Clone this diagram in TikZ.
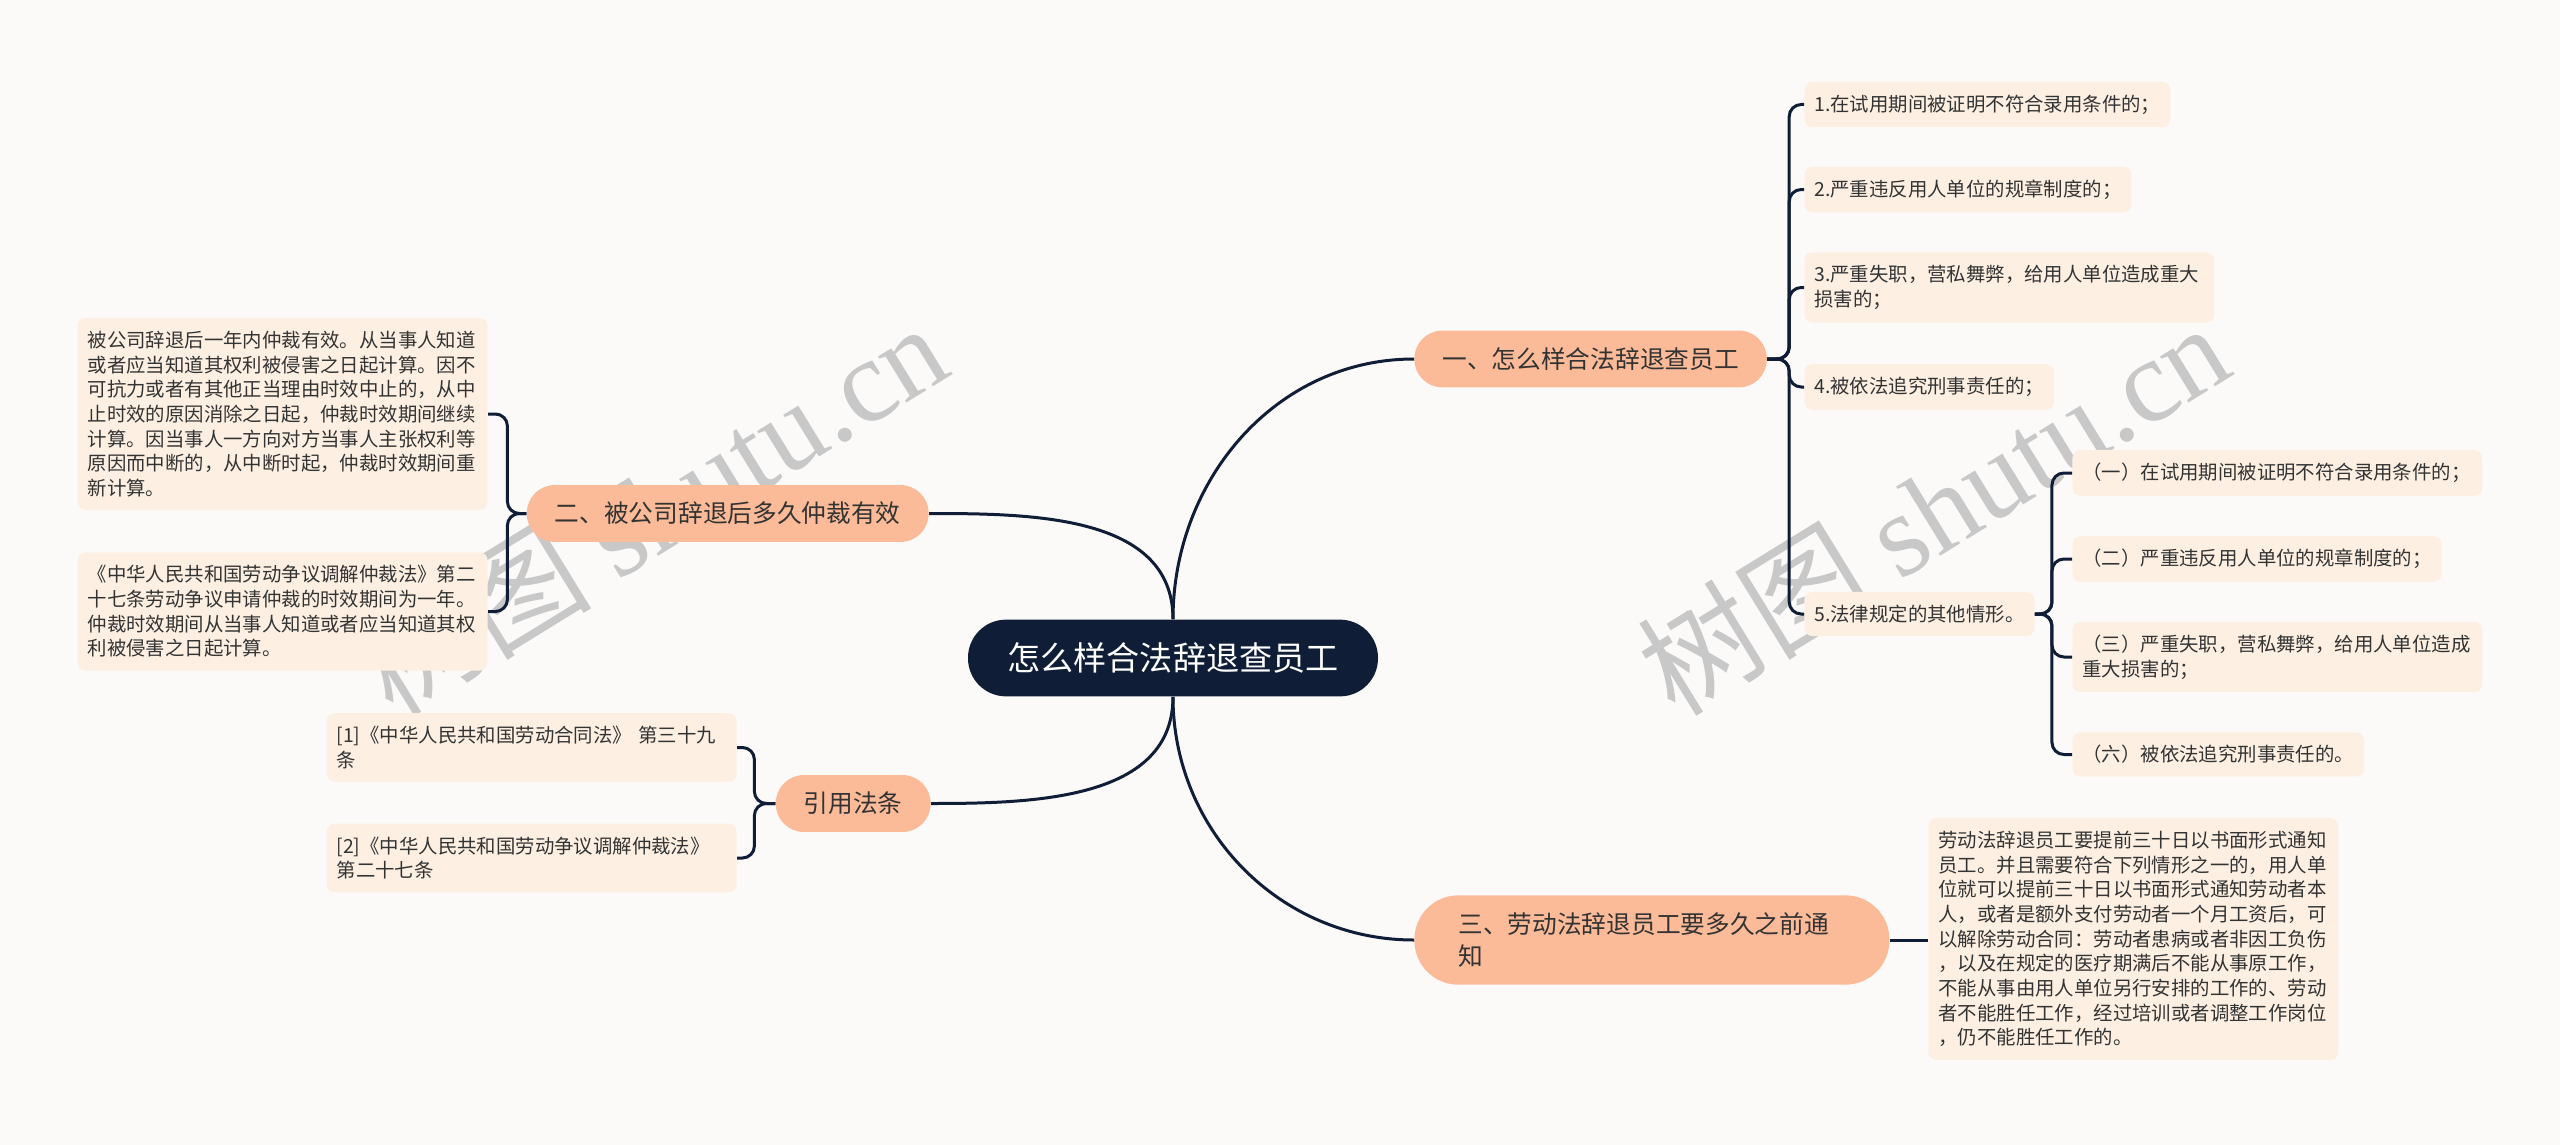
\documentclass[tikz,border=0pt]{standalone}
\usepackage{fontspec}
\setmainfont{Noto Sans CJK SC}
\newfontfamily\wmserif{Liberation Serif}
\usetikzlibrary{calc, positioning}
\definecolor{bgc}{RGB}{252,250,249}
\definecolor{rootc}{HTML}{0F1E36}
\definecolor{linec}{HTML}{0F1E36}
\definecolor{branchc}{HTML}{FCBB98}
\definecolor{leafc}{HTML}{FDF0E3}
\definecolor{txtc}{HTML}{333333}
\definecolor{wmc}{RGB}{200,200,200}

\begin{document}
\begin{tikzpicture}[x=0.5pt, y=0.5pt,
    link/.style={draw=linec, line width=1.5pt},
    brace/.style={link, rounded corners=6pt},
    rootbox/.style={fill=rootc, text=white, rounded corners=19pt, inner xsep=19.75pt, inner ysep=11.5pt, font=\fontsize{16.55pt}{20pt}\selectfont},
    branch/.style={fill=branchc, text=txtc, rounded corners=14pt, inner xsep=14pt, inner ysep=8.5pt, align=left, font=\fontsize{12.35pt}{16.3pt}\selectfont},
    leaf/.style={fill=leafc, text=txtc, rounded corners=4pt, inner xsep=5pt, inner ysep=6.5pt, align=left, font=\fontsize{9.7pt}{12.35pt}\selectfont},
    wrapleaf/.style={leaf, text width=195pt},
    wm/.style={text=wmc, font=\fontsize{59pt}{62pt}\selectfont}]
    \useasboundingbox (0,0) rectangle (2560,-1145);
    \fill[bgc] (0,0) rectangle (2560,-1145);

    \node[wm, rotate=31.6] (wm1) at (651,-508) {树图 {\wmserif shutu.cn}};
    \node[wm, rotate=31.6] (wm2) at (1933,-508) {树图 {\wmserif shutu.cn}};

    \node[rootbox] (root) at (1173,-658) {怎么样合法辞退查员工};

    \node[branch, anchor=west] (b1) at (1414,-359) {一、怎么样合法辞退查员工};
    \node[branch, anchor=east] (b2) at (929,-513.5) {二、被公司辞退后多久仲裁有效};
    \node[branch, anchor=west, text width=193.5pt, inner xsep=22pt, rounded corners=22pt] (b3) at (1414,-940) {三、劳动法辞退员工要多久之前通\\知};
    \node[branch, anchor=east] (b4) at (931,-803.5) {引用法条};

    \node[leaf, anchor=west] (l1) at (1804,-104.5) {1.在试用期间被证明不符合录用条件的；};
    \node[leaf, anchor=west] (l2) at (1804,-189.5) {2.严重违反用人单位的规章制度的；};
    \node[wrapleaf, anchor=west] (l3) at (1804,-287.5) {3.严重失职，营私舞弊，给用人单位造成重大\\损害的；};
    \node[leaf, anchor=west] (l4) at (1804,-387) {4.被依法追究刑事责任的；};
    \node[leaf, anchor=west] (l5) at (1804,-614) {5.法律规定的其他情形。};

    \node[wrapleaf, anchor=west] (s1) at (2072,-473) {（一）在试用期间被证明不符合录用条件的；};
    \node[leaf, anchor=west] (s2) at (2072,-559) {（二）严重违反用人单位的规章制度的；};
    \node[wrapleaf, anchor=west] (s3) at (2072,-657) {（三）严重失职，营私舞弊，给用人单位造成\\重大损害的；};
    \node[leaf, anchor=west] (s6) at (2072,-754.5) {（六）被依法追究刑事责任的。};

    \node[wrapleaf, anchor=west] (n3) at (1928,-939) {劳动法辞退员工要提前三十日以书面形式通知\\员工。并且需要符合下列情形之一的，用人单\\位就可以提前三十日以书面形式通知劳动者本\\人，或者是额外支付劳动者一个月工资后，可\\以解除劳动合同：劳动者患病或者非因工负伤\\，以及在规定的医疗期满后不能从事原工作，\\不能从事由用人单位另行安排的工作的、劳动\\者不能胜任工作，经过培训或者调整工作岗位\\，仍不能胜任工作的。};

    \node[wrapleaf, anchor=east] (p1) at (488,-414) {被公司辞退后一年内仲裁有效。从当事人知道\\或者应当知道其权利被侵害之日起计算。因不\\可抗力或者有其他正当理由时效中止的，从中\\止时效的原因消除之日起，仲裁时效期间继续\\计算。因当事人一方向对方当事人主张权利等\\原因而中断的，从中断时起，仲裁时效期间重\\新计算。};
    \node[wrapleaf, anchor=east] (p2) at (488,-611.5) {《中华人民共和国劳动争议调解仲裁法》第二\\十七条劳动争议申请仲裁的时效期间为一年。\\仲裁时效期间从当事人知道或者应当知道其权\\利被侵害之日起计算。};

    \node[wrapleaf, anchor=east] (q1) at (737,-747.5) {[1]《中华人民共和国劳动合同法》 第三十九\\条};
    \node[wrapleaf, anchor=east] (q2) at (737,-858) {[2]《中华人民共和国劳动争议调解仲裁法》\\第二十七条};

    \draw[link] (root.north) to[out=90, in=180] (b1.west);
    \draw[link] (root.north) to[out=90, in=0] (b2.east);
    \draw[link] (root.south) to[out=-90, in=180] (b3.west);
    \draw[link] (root.south) to[out=-90, in=0] (b4.east);

    \foreach \n in {l1,l2,l3,l4,l5}
      \draw[brace] (b1.east) -- ++(22,0) |- (\n.west);
    \foreach \n in {s1,s2,s3,s6}
      \draw[brace] (l5.east) -- ++(17,0) |- (\n.west);
    \foreach \n in {p1,p2}
      \draw[brace] (b2.west) -- ++(-19,0) |- (\n.east);
    \foreach \n in {q1,q2}
      \draw[brace] (b4.west) -- ++(-21,0) |- (\n.east);
    \draw[link] (b3.east) -- (b3.east -| n3.west);
  \end{tikzpicture}
\end{document}
